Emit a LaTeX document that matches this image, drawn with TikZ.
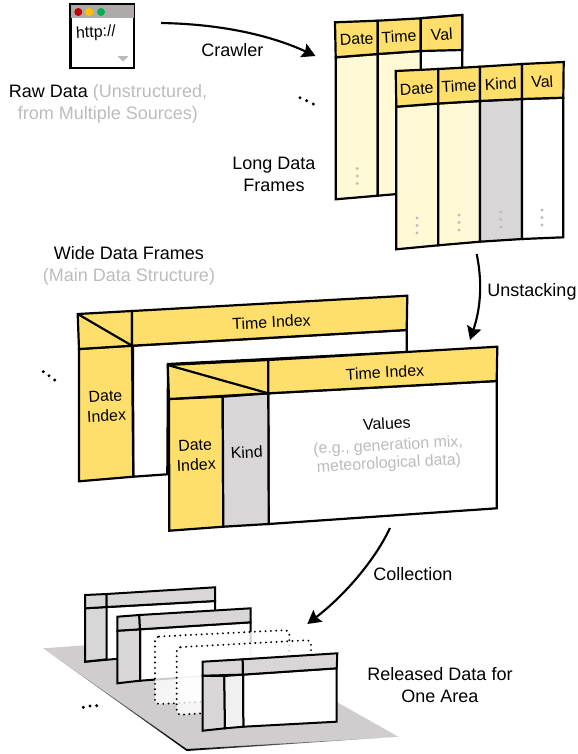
\documentclass[tikz,border=0pt]{standalone}
\usepackage{fontspec}
\setmainfont{Liberation Sans}
\usetikzlibrary{arrows.meta,positioning}
\definecolor{hdrYellow}{HTML}{FFDF6B}
\definecolor{lightYellow}{HTML}{FFFAD5}
\definecolor{kindGray}{HTML}{D8D6D7}
\definecolor{paleGray}{HTML}{F0F0F0}
\definecolor{planeGray}{HTML}{CFCDCE}
\definecolor{textGray}{HTML}{BDBBBB}
\definecolor{barGray}{HTML}{AEAAAA}
\definecolor{dotRed}{HTML}{C00000}
\definecolor{dotAmber}{HTML}{FFC000}
\definecolor{dotGreen}{HTML}{00B050}
\newcommand{\labelfont}{\fontsize{13.5}{16.5}\selectfont}
\newcommand{\cellfont}{\fontsize{11.95}{15}\selectfont}
\tikzset{>={Stealth[width=11pt,length=10pt,inset=1.5pt]}}
\tikzset{cell/.style={draw=black,line width=1.65pt,line join=miter}}
\tikzset{thincell/.style={draw=black,line width=1.5pt,line join=miter}}
\tikzset{flow/.style={->,draw=black,line width=1.6pt}}
\tikzset{lbl/.style={font=\labelfont,align=center,inner sep=0pt}}
\tikzset{celltext/.style={font=\cellfont,align=center,inner sep=0pt,rotate=3}}
\tikzset{ghost/.style={line width=1.6pt,line cap=round,dash pattern=on 0pt off 4pt,rounded corners=3pt,fill=white,fill opacity=.8}}

\begin{document}
\begin{tikzpicture}[x=.75pt,y=-.75pt]
  \useasboundingbox (0,0) rectangle (578,754);

  % browser
  \node(browser) at (102.3,36.3) [draw=black,fill=white,line width=2pt,minimum size=47.5pt,inner sep=0pt] {};
  \fill[barGray] (71,5) rectangle (133.6,17.5);
  \fill[dotRed] (78.3,12) circle (4);
  \fill[dotAmber] (89.3,12) circle (4);
  \fill[dotGreen] (101,12) circle (4);
  \node(http) at (96,33) [celltext,rotate=0] {http://};
  \fill[textGray] (117.5,56) -- (128.5,56) -- (123,61.5) -- cycle;
  \node(raw) at (108,104) [lbl] {Raw Data \textcolor{textGray}{(Unstructured,}\\\textcolor{textGray}{from Multiple Sources)}};

  % long frames
  \draw[cell,fill=white] (420.7,18.3) -- (462.3,15) -- (462.3,80) -- (420.7,80) -- cycle;
  \draw[cell,fill=lightYellow] (335.7,57.3) -- (377.7,54) -- (377.7,195.7) -- (335.7,199.3) -- cycle;
  \draw[cell,fill=lightYellow] (377.7,54) -- (420.7,51) -- (420.7,192) -- (377.7,195.7) -- cycle;
  \draw[cell,fill=hdrYellow] (335,22.3) -- (377.7,20.7) -- (377.7,54) -- (335.7,57.3) -- cycle;
  \draw[cell,fill=hdrYellow] (377.7,20.7) -- (420.7,18.3) -- (420.7,51) -- (377.7,54) -- cycle;
  \draw[cell,fill=hdrYellow] (420.7,18.3) -- (462.3,15) -- (462.3,50) -- (420.7,51) -- cycle;
  \node(l1) at (356.7,39.3) [celltext] {Date};
  \node(l2) at (399,36.7) [celltext] {Time};
  \node(l3) at (441.7,34.3) [celltext] {Val};

  \draw[cell,fill=lightYellow] (396.3,106.7) -- (438.3,103.5) -- (438.3,245.3) -- (396.3,249.3) -- cycle;
  \draw[cell,fill=lightYellow] (438.3,103.5) -- (480,101) -- (480,241.7) -- (438.3,245.3) -- cycle;
  \draw[cell,fill=kindGray] (480,101) -- (522,99) -- (522,239) -- (480,241.7) -- cycle;
  \draw[cell,fill=white] (522,99) -- (563.3,97.7) -- (563.3,237.3) -- (522,239) -- cycle;
  \draw[cell,fill=hdrYellow] (395.7,71) -- (438.3,69) -- (438.3,103.5) -- (396.3,106.7) -- cycle;
  \draw[cell,fill=hdrYellow] (438.3,69) -- (480,66.7) -- (480,101) -- (438.3,103.5) -- cycle;
  \draw[cell,fill=hdrYellow] (480,66.7) -- (522,64) -- (522,99) -- (480,101) -- cycle;
  \draw[cell,fill=hdrYellow] (522,64) -- (563.7,62) -- (563.3,97.7) -- (522,99) -- cycle;
  \node(s1) at (416.7,89) [celltext] {Date};
  \node(s2) at (459,86) [celltext] {Time};
  \node(s3) at (500.7,84) [celltext] {Kind};
  \node(s4) at (542.3,81.7) [celltext] {Val};
  \node(long) at (274,174) [lbl] {Long Data\\Frames};

  \foreach \x/\y in {357.3/168.5,417/218,459/215,500.7/212,542/210,388.3/488}
    \foreach \d in {0,7.5,15}
      \fill[textGray] (\x,\y+\d) circle (1.6);
  \foreach \x/\y in {300/97.7,306.7/100.7,313.3/104,43.3/371.7,49/375.7,54.7/380,83.3/707.3,90/706,96.7/705.7}
    \fill[black] (\x,\y) circle (1.7);

  % wide frames
  \node(wide) at (129,266) [lbl] {Wide Data Frames\\\textcolor{textGray}{(Main Data Structure)}};
  \draw[cell,fill=white] (133,345.7) -- (406.7,330) -- (406.7,352) -- (168,364) -- (167.3,474.3) -- (133.3,476.7) -- cycle;
  \draw[cell,fill=hdrYellow] (79,349) -- (132,345.7) -- (133.3,476.7) -- (79,481.3) -- cycle;
  \draw[cell,fill=hdrYellow] (77.7,314) -- (132,311) -- (132,345.7) -- (79,349) -- cycle;
  \draw[cell,fill=hdrYellow] (132,311) -- (407.3,295.7) -- (406.7,330) -- (132,345.7) -- cycle;
  \draw[cell] (77.7,314) -- (132,345.7);
  \node(wd) at (106,406) [celltext] {Date\\Index};
  \node(wt) at (271.5,322) [celltext] {Time Index};

  \draw[cell,fill=white] (268.3,393.3) -- (496.7,381) -- (496.7,508.3) -- (268.7,524) -- cycle;
  \draw[cell,fill=hdrYellow] (169,399) -- (222.7,396.7) -- (223.3,526.7) -- (169.3,530.7) -- cycle;
  \draw[cell,fill=kindGray] (222.7,396.7) -- (268.3,393.3) -- (268.7,524) -- (223.3,526.7) -- cycle;
  \draw[cell,fill=hdrYellow] (167.7,365) -- (268.3,360) -- (268.3,393.3) -- (169,399) -- cycle;
  \draw[cell,fill=hdrYellow] (268.3,360) -- (497.3,346.7) -- (496.7,381) -- (268.3,393.3) -- cycle;
  \draw[cell] (167.7,365) -- (268.3,393.3);
  \node(fd) at (195.7,455) [celltext] {Date\\Index};
  \node(fk) at (246.7,452.3) [celltext] {Kind};
  \node(ft) at (385,372.3) [celltext] {Time Index};
  \node(fv) at (388,444.5) [celltext,font=\fontsize{11.95}{13.5}\selectfont] {Values\\[2.5pt]\textcolor{textGray}{(e.g., generation mix,}\\\textcolor{textGray}{meteorological data)}};

  % release
  \fill[planeGray] (43.3,648.3) -- (219,635.6) -- (398.3,736.7) -- (186.7,749) -- cycle;
  \shade[left color=planeGray,middle color=gray,right color=black] (43.3,648.3) -- (186.7,749) -- (186.7,751) -- cycle;
  \shade[left color=black,right color=planeGray] (186.7,749) -- (398.3,736.7) -- (186.7,751) -- cycle;

  \draw[thincell,fill=white] (85,608.3) -- (215,601) -- (215,650) -- (85,661.7) -- cycle;
  \draw[thincell,fill=kindGray] (85,608.3) -- (106.7,607) -- (106.7,659.3) -- (85,661.7) -- cycle;
  \draw[thincell,fill=kindGray] (85,595) -- (106.7,594) -- (106.7,607) -- (85,608.3) -- cycle;
  \draw[thincell,fill=kindGray] (106.7,594) -- (215,587.3) -- (215,601) -- (106.7,607) -- cycle;

  \draw[thincell,fill=white] (140,629.3) -- (250.7,622.3) -- (250.7,672.5) -- (140,680.7) -- cycle;
  \draw[thincell,fill=kindGray] (117.3,630.7) -- (140,629.3) -- (140,680.7) -- (117.3,683.3) -- cycle;
  \draw[thincell,fill=kindGray] (117.3,616.7) -- (139.3,615) -- (140,629.3) -- (117.3,630.7) -- cycle;
  \draw[thincell,fill=kindGray] (139.3,615) -- (250.7,608.3) -- (250.7,622.3) -- (140,629.3) -- cycle;

  \draw[ghost] (155,636.7) -- (289.3,630) -- (289.3,697) -- (155,704.3) -- cycle;
  \draw[ghost] (176.7,647.3) -- (311,640) -- (311,706) -- (176.7,715) -- cycle;

  \draw[thincell,fill=white] (243,674.6) -- (336.7,668.3) -- (336.7,721.7) -- (243.3,726.7) -- cycle;
  \draw[thincell,fill=kindGray] (202.7,675.7) -- (224.3,676) -- (225,728.3) -- (202.7,730.7) -- cycle;
  \draw[thincell,fill=paleGray] (224.3,676) -- (243,674.6) -- (243.3,726.7) -- (225,728.3) -- cycle;
  \draw[thincell,fill=kindGray] (202.7,661.7) -- (242.7,659.3) -- (243,674.6) -- (202.7,675.7) -- cycle;
  \draw[thincell,fill=kindGray] (242.7,659.3) -- (337.3,653.3) -- (336.7,668.3) -- (243,674.6) -- cycle;
  \node(area) at (440,685.5) [lbl] {Released Data for\\One Area};

  % arrows
  \coordinate(c1) at (161,23);
  \coordinate(c2) at (315.5,56);
  \coordinate(c3) at (476.7,254);
  \coordinate(c4) at (470,340);
  \coordinate(c5) at (390,528);
  \coordinate(c6) at (307.3,624);
  \draw[flow] (c1) .. controls (220,24) and (270,35) .. (c2);
  \draw[flow] (c3) .. controls (483,285) and (480,310) .. (c4);
  \draw[flow] (c5) .. controls (375,560) and (345,595) .. (c6);
  \node(crawler) at (232.5,50) [lbl] {Crawler};
  \node(unstack) at (532,292) [lbl] {Unstacking};
  \node(collect) at (413,574) [lbl] {Collection};
\end{tikzpicture}
\end{document}
